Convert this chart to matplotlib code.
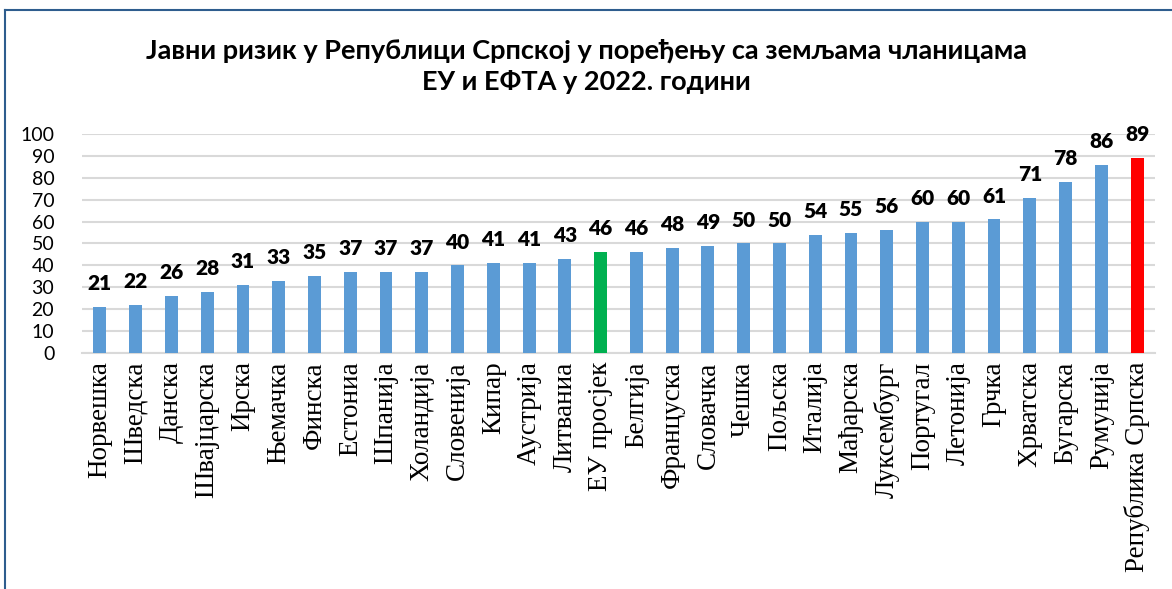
import matplotlib.pyplot as plt
from matplotlib.lines import Line2D

# Data
countries = ['Норвешка', 'Шведска', 'Данска', 'Швајцарска', 'Ирска', 'Њемачка',
             'Финска', 'Естониа', 'Шпанија', 'Холандија', 'Словенија', 'Кипар',
             'Аустрија', 'Литваниа', 'ЕУ просјек', 'Белгија', 'Француска',
             'Словачка', 'Чешка', 'Пољска', 'Италија', 'Мађарска', 'Луксембург',
             'Португал', 'Летонија', 'Грчка', 'Хрватска', 'Бугарска', 'Румунија',
             'Република Српска']
risk = [21, 22, 26, 28, 31, 33, 35, 37, 37, 37, 40, 41, 41, 43, 46, 46, 48,
        49, 50, 50, 54, 55, 56, 60, 60, 61, 71, 78, 86, 89]
title = 'Јавни ризик у Републици Српској у поређењу са земљама чланицама\nЕУ и ЕФТА у 2022. години'

sans = ['Lato', 'Open Sans', 'DejaVu Sans']
serif = ['Liberation Serif', 'DejaVu Serif']

colors = []
for c in countries:
    if c == 'ЕУ просјек':
        colors.append('#00B050')
    elif c == 'Република Српска':
        colors.append('#FF0000')
    else:
        colors.append('#5B9BD5')

fig = plt.figure(figsize=(11.72, 5.89), dpi=100)
ax = fig.add_axes([0.070, 0.4007, 0.9155, 0.3718])

x = range(len(countries))
bars = ax.bar(x, risk, width=0.36, color=colors, zorder=3)

for xi, v in zip(x, risk):
    ax.annotate(str(v), (xi, v), xytext=(0, 10), textcoords='offset points',
                ha='center', va='bottom', fontsize=15, fontweight='heavy',
                family=sans)

ax.set_ylim(0, 100)
ax.set_xlim(-0.5, len(countries) - 0.5)
ax.set_yticks(range(0, 101, 10))
ax.set_xticks(list(x))
ax.set_xticklabels(countries, rotation=90, fontsize=19.5, family=serif)
for lbl in ax.get_yticklabels():
    lbl.set_family(sans)
    lbl.set_fontsize(14)
ax.tick_params(length=0, pad=6)
ax.tick_params(axis='y', pad=20)
ax.grid(axis='y', color='#D9D9D9', linewidth=1.5, zorder=0)
for s in ['top', 'right', 'left']:
    ax.spines[s].set_visible(False)
ax.spines['bottom'].set_color('#D9D9D9')
ax.spines['bottom'].set_linewidth(1.5)

fig.text(0.5, 0.887, title, ha='center', va='center', fontsize=19.5,
         fontweight='bold', family=sans, linespacing=1.33)

# frame lines (top and left)
fig.add_artist(Line2D([5 / 1172, 1], [1 - 10 / 589, 1 - 10 / 589],
                      color='#2E5D8E', linewidth=1.5, transform=fig.transFigure))
fig.add_artist(Line2D([5 / 1172, 5 / 1172], [0, 1 - 10 / 589],
                      color='#2E5D8E', linewidth=1.5, transform=fig.transFigure))

fig.savefig('out.png', dpi=100)
